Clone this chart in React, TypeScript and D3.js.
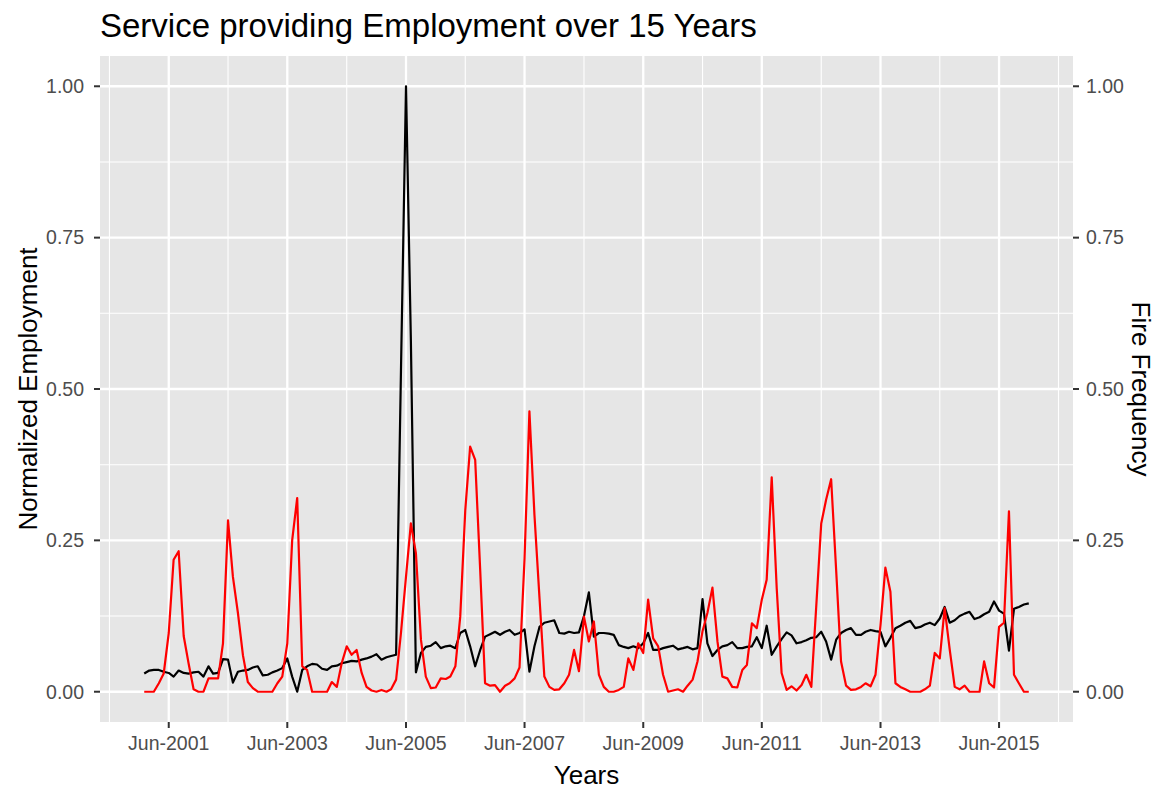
import * as d3 from "d3";

// monthly series, Jan-2001 .. Dec-2015
const startYear = 2001;

const employment = [
  0.030, 0.035, 0.036, 0.036, 0.033, 0.031, 0.025, 0.035, 0.031, 0.030, 0.032, 0.033,
  0.025, 0.042, 0.030, 0.031, 0.054, 0.053, 0.015, 0.033, 0.035, 0.036, 0.040, 0.042,
  0.027, 0.028, 0.032, 0.035, 0.039, 0.055, 0.025, 0.000, 0.036, 0.042, 0.046, 0.045,
  0.038, 0.036, 0.042, 0.043, 0.047, 0.049, 0.051, 0.050, 0.053, 0.055, 0.058, 0.062,
  0.053, 0.057, 0.059, 0.061, 0.530, 1.000, 0.580, 0.032, 0.064, 0.074, 0.076, 0.082,
  0.072, 0.075, 0.076, 0.072, 0.097, 0.102, 0.075, 0.042, 0.069, 0.091, 0.095, 0.099,
  0.094, 0.099, 0.102, 0.094, 0.097, 0.103, 0.033, 0.075, 0.107, 0.114, 0.116, 0.118,
  0.097, 0.096, 0.099, 0.097, 0.098, 0.125, 0.164, 0.091, 0.097, 0.097, 0.096, 0.094,
  0.077, 0.074, 0.072, 0.075, 0.072, 0.080, 0.097, 0.069, 0.069, 0.072, 0.074, 0.076,
  0.070, 0.072, 0.074, 0.070, 0.072, 0.153, 0.080, 0.059, 0.069, 0.075, 0.077, 0.082,
  0.072, 0.072, 0.074, 0.075, 0.090, 0.072, 0.109, 0.061, 0.075, 0.087, 0.098, 0.093,
  0.080, 0.082, 0.085, 0.089, 0.090, 0.099, 0.083, 0.053, 0.086, 0.097, 0.102, 0.105,
  0.094, 0.094, 0.099, 0.102, 0.100, 0.099, 0.075, 0.089, 0.105, 0.109, 0.114, 0.117,
  0.105, 0.107, 0.111, 0.114, 0.110, 0.121, 0.140, 0.114, 0.118, 0.125, 0.129, 0.132,
  0.120, 0.123, 0.128, 0.132, 0.149, 0.134, 0.129, 0.068, 0.137, 0.140, 0.144, 0.146,
];

const fireFrequency = [
  0.000, 0.000, 0.000, 0.014, 0.030, 0.097, 0.218, 0.232, 0.092, 0.047, 0.004, 0.000,
  0.000, 0.022, 0.022, 0.022, 0.080, 0.283, 0.190, 0.130, 0.060, 0.016, 0.006, 0.000,
  0.000, 0.000, 0.000, 0.014, 0.025, 0.080, 0.250, 0.320, 0.042, 0.036, 0.000, 0.000,
  0.000, 0.000, 0.016, 0.008, 0.047, 0.075, 0.061, 0.069, 0.031, 0.008, 0.002, 0.000,
  0.003, 0.000, 0.004, 0.020, 0.097, 0.190, 0.278, 0.229, 0.086, 0.025, 0.006, 0.007,
  0.022, 0.021, 0.025, 0.042, 0.124, 0.300, 0.405, 0.383, 0.200, 0.014, 0.010, 0.011,
  0.000, 0.010, 0.014, 0.022, 0.040, 0.220, 0.463, 0.292, 0.155, 0.025, 0.008, 0.003,
  0.004, 0.014, 0.028, 0.069, 0.034, 0.124, 0.083, 0.116, 0.028, 0.008, 0.000, 0.000,
  0.003, 0.008, 0.055, 0.036, 0.080, 0.064, 0.152, 0.088, 0.075, 0.028, 0.000, 0.002,
  0.004, 0.000, 0.010, 0.020, 0.050, 0.100, 0.130, 0.172, 0.083, 0.025, 0.022, 0.008,
  0.007, 0.036, 0.044, 0.113, 0.105, 0.152, 0.185, 0.354, 0.170, 0.031, 0.003, 0.009,
  0.002, 0.011, 0.028, 0.008, 0.140, 0.278, 0.317, 0.351, 0.200, 0.050, 0.010, 0.003,
  0.004, 0.008, 0.014, 0.009, 0.028, 0.110, 0.205, 0.165, 0.014, 0.008, 0.004, 0.000,
  0.000, 0.000, 0.004, 0.010, 0.064, 0.055, 0.138, 0.070, 0.008, 0.004, 0.010, 0.000,
  0.000, 0.000, 0.050, 0.014, 0.007, 0.107, 0.114, 0.298, 0.028, 0.014, 0.000, 0.000,
];

const majorYears = [2001, 2003, 2005, 2007, 2009, 2011, 2013, 2015];
const minorYears = [2000, 2002, 2004, 2006, 2008, 2010, 2012, 2014, 2016];
const yTicks = [0, 0.25, 0.5, 0.75, 1];
const yMinor = [0.125, 0.375, 0.625, 0.875];

const font = "'Liberation Sans', Arial, Helvetica, sans-serif";

export default function App() {
  const W = 1164;
  const H = 792;
  const panel = { left: 100, right: 1073, top: 56, bottom: 722 };

  const months = employment.map((_, i) => new Date(startYear, i, 1));
  const t0 = months[0].getTime();
  const t1 = months[months.length - 1].getTime();
  const pad = (t1 - t0) * 0.05;

  const x = d3
    .scaleTime()
    .domain([new Date(t0 - pad), new Date(t1 + pad)])
    .range([panel.left, panel.right]);
  const y = d3.scaleLinear().domain([-0.05, 1.05]).range([panel.bottom, panel.top]);

  const line = d3
    .line<number>()
    .x((_, i) => x(months[i]))
    .y((d) => y(d));

  const fmt = d3.timeFormat("%b-%Y");
  const jun = (yr: number) => new Date(yr, 5, 1);
  const tickSize = 19.5;

  return (
    <svg
      width={W}
      height={H}
      style={{ position: "absolute", left: 0, top: 0, background: "white" }}
      fontFamily={font}
    >
      <rect x={0} y={0} width={W} height={H} fill="white" />
      <text x={panel.left} y={37} fontSize={33} fill="black">
        Service providing Employment over 15 Years
      </text>

      {/* panel */}
      <rect
        x={panel.left}
        y={panel.top}
        width={panel.right - panel.left}
        height={panel.bottom - panel.top}
        fill="#E6E6E6"
      />
      {yMinor.map((v) => (
        <line key={"ym" + v} x1={panel.left} x2={panel.right} y1={y(v)} y2={y(v)} stroke="white" strokeWidth={1.1} />
      ))}
      {minorYears.map((yr) => (
        <line key={"xm" + yr} x1={x(jun(yr))} x2={x(jun(yr))} y1={panel.top} y2={panel.bottom} stroke="white" strokeWidth={1.1} />
      ))}
      {yTicks.map((v) => (
        <line key={"yg" + v} x1={panel.left} x2={panel.right} y1={y(v)} y2={y(v)} stroke="white" strokeWidth={2.3} />
      ))}
      {majorYears.map((yr) => (
        <line key={"xg" + yr} x1={x(jun(yr))} x2={x(jun(yr))} y1={panel.top} y2={panel.bottom} stroke="white" strokeWidth={2.3} />
      ))}

      <path d={line(employment) ?? ""} fill="none" stroke="black" strokeWidth={2.2} strokeLinejoin="round" />
      <path d={line(fireFrequency) ?? ""} fill="none" stroke="#FF0000" strokeWidth={2.2} strokeLinejoin="round" />

      {/* left axis */}
      {yTicks.map((v) => (
        <g key={"yl" + v}>
          <line x1={panel.left - 6} x2={panel.left} y1={y(v)} y2={y(v)} stroke="#333333" strokeWidth={2} />
          <text x={panel.left - 16} y={y(v)} dy="0.35em" textAnchor="end" fontSize={tickSize} fill="#4D4D4D">
            {v.toFixed(2)}
          </text>
        </g>
      ))}
      {/* right axis */}
      {yTicks.map((v) => (
        <g key={"yr" + v}>
          <line x1={panel.right} x2={panel.right + 6} y1={y(v)} y2={y(v)} stroke="#333333" strokeWidth={2} />
          <text x={panel.right + 13} y={y(v)} dy="0.35em" textAnchor="start" fontSize={tickSize} fill="#4D4D4D">
            {v.toFixed(2)}
          </text>
        </g>
      ))}
      {/* bottom axis */}
      {majorYears.map((yr) => (
        <g key={"xl" + yr}>
          <line x1={x(jun(yr))} x2={x(jun(yr))} y1={panel.bottom} y2={panel.bottom + 6} stroke="#333333" strokeWidth={2} />
          <text x={x(jun(yr))} y={750} textAnchor="middle" fontSize={tickSize} fill="#4D4D4D">
            {fmt(jun(yr))}
          </text>
        </g>
      ))}

      <text x={(panel.left + panel.right) / 2} y={784} textAnchor="middle" fontSize={26} fill="black">
        Years
      </text>
      <text
        transform={`translate(37,${(panel.top + panel.bottom) / 2}) rotate(-90)`}
        textAnchor="middle"
        fontSize={26}
        fill="black"
      >
        Normalized Employment
      </text>
      <text
        transform={`translate(1132,${(panel.top + panel.bottom) / 2}) rotate(90)`}
        textAnchor="middle"
        fontSize={26}
        fill="black"
      >
        Fire Frequency
      </text>
    </svg>
  );
}
